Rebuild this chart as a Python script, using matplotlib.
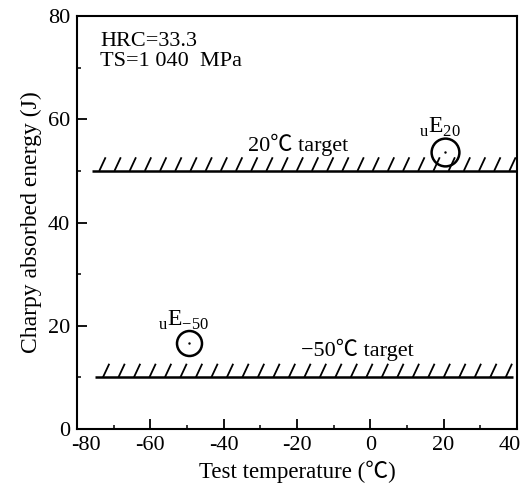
import matplotlib
matplotlib.use("Agg")
import matplotlib.pyplot as plt
import matplotlib.patheffects as pe
from matplotlib.ticker import MultipleLocator
from matplotlib.transforms import ScaledTranslation

plt.rcParams["font.family"] = ["Liberation Serif", "Noto Sans CJK JP", "DejaVu Serif"]
plt.rcParams["mathtext.fontset"] = "custom"
plt.rcParams["mathtext.rm"] = "Liberation Serif"
plt.rcParams["axes.unicode_minus"] = False

# target lines (Charpy energy requirement)
target_labels = ["20\u2103 target", "\u221250\u2103 target"]
target_energy = [50, 10]
target_t_start = [-76, -75]
target_t_end = [40, 39]

# measured points
point_labels = [r"$_{\mathrm{u}}$E$_{20}$", r"$_{\mathrm{u}}$E$_{-50}$"]
point_temp = [20.3, -49.4]
point_energy = [53.7, 16.7]

x_ticks = [-80, -60, -40, -20, 0, 20, 40]
y_ticks = [0, 20, 40, 60, 80]

INK = "black"

fig = plt.figure(figsize=(5.21, 4.88), dpi=100)
ax = fig.add_axes([0.148, 0.121, 0.844, 0.846])

for lvl, t0, t1 in zip(target_energy, target_t_start, target_t_end):
    ax.plot([t0, t1], [lvl, lvl], color=INK, lw=1.8, solid_capstyle="butt",
            path_effects=[pe.withTickedStroke(spacing=10.8, angle=65, length=1.0,
                                              linewidth=1.3)])

sizes = [20, 18]
for t, e, s in zip(point_temp, point_energy, sizes):
    ax.plot(t, e, "o", ms=s, mfc="none", mec=INK, mew=1.8)
    ax.plot(t, e, ".", ms=1.5, color=INK)

ax.text(point_temp[0] - 7, point_energy[0] + 4.8, point_labels[0], fontsize=17, va="center")
ax.text(point_temp[1] - 8.6, point_energy[1] + 4.3, point_labels[1], fontsize=17, va="center")
ax.text(-33.5, target_energy[0] + 5, target_labels[0], fontsize=16, va="center")
ax.text(-19, target_energy[1] + 5.3, target_labels[1], fontsize=16, va="center")

ax.text(0.052, 0.962, "HRC=33.3\nTS=1 040  MPa", transform=ax.transAxes, fontsize=16,
        va="top", ha="left", linespacing=1.1)

ax.set_xlim(-80, 40)
ax.set_ylim(0, 80)
ax.set_xticks(x_ticks)
ax.set_yticks(y_ticks)
ax.xaxis.set_minor_locator(MultipleLocator(10))
ax.yaxis.set_minor_locator(MultipleLocator(10))
ax.tick_params(which="major", direction="in", length=7, width=1.3, labelsize=16, pad=5)
ax.tick_params(which="minor", direction="in", length=3, width=1.1)
for sp in ax.spines.values():
    sp.set_linewidth(1.5)

# nudge the end x labels like the original print
labels = ax.get_xticklabels()
first, last = labels[0], labels[-1]
first.set_transform(first.get_transform() + ScaledTranslation(6 / 72, 0, fig.dpi_scale_trans))
last.set_transform(last.get_transform() + ScaledTranslation(-5 / 72, 0, fig.dpi_scale_trans))

ax.set_xlabel("Test temperature (\u2103)", fontsize=16.5, labelpad=4)
ax.set_ylabel("Charpy absorbed energy (J)", fontsize=17, labelpad=4)

fig.savefig("out.png", dpi=100)
